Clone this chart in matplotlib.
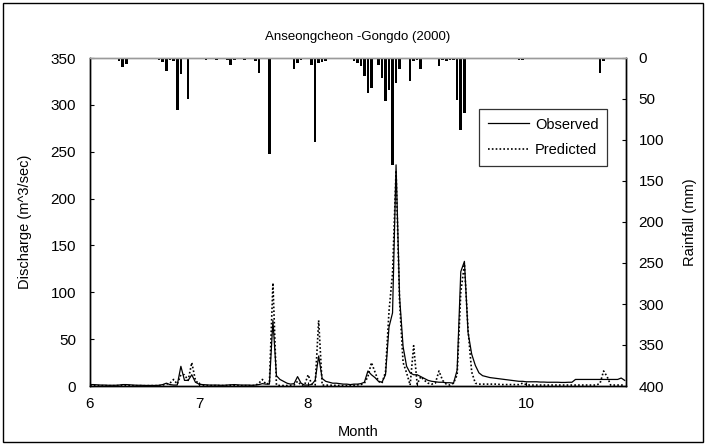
import numpy as np
import pandas as pd
import matplotlib
matplotlib.use("Agg")
import matplotlib.pyplot as plt
from matplotlib.patches import Rectangle

plt.rcParams['font.family'] = ['Liberation Sans', 'DejaVu Sans']

# Daily rainfall (mm), 1 June - 29 October 2000
rain_jun = [0, 0, 0, 0, 0, 0, 0, 0, 4, 11, 7, 0, 0, 0, 0, 0, 0, 0, 0, 3,
            5, 16, 3, 4, 64, 20, 0, 50, 0, 0]
rain_jul = [0, 0, 3, 0, 0, 3, 0, 0, 3, 8, 3, 0, 0, 3, 0, 0, 4, 18, 0, 0,
            117, 0, 0, 0, 0, 0, 0, 13, 6, 3, 0]
rain_aug = [0, 8, 103, 6, 5, 4, 0, 0, 0, 0, 0, 0, 0, 4, 6, 10, 22, 43, 37, 0,
            8, 25, 53, 39, 130, 30, 14, 0, 0, 28, 4]
rain_sep = [3, 14, 0, 0, 0, 0, 10, 3, 4, 3, 3, 51, 88, 67, 0, 0, 0, 0, 0, 0,
            0, 0, 0, 0, 0, 0, 0, 0, 3, 3]
rain_oct = [0, 0, 0, 0, 0, 0, 0, 0, 0, 0, 0, 0, 0, 0, 0, 0, 0, 0, 0, 0,
            0, 18, 4, 0, 0, 0, 0, 0, 0]

# Observed daily discharge (m^3/sec)
obs_jun = [1.5, 1.5, 1.2, 1.0, 1.0, 0.8, 0.8, 0.8, 1.0, 1.5, 1.5, 1.2, 1.0, 0.8, 0.8,
           0.6, 0.6, 0.6, 0.6, 0.8, 1.5, 3.0, 1.5, 1.0, 1.0, 21, 6, 6, 12, 4]
obs_jul = [2, 1.5, 1.2, 1.0, 1.0, 1.0, 0.8, 0.8, 1.0, 1.2, 1.5, 1.2, 1.0, 1.0, 1.0,
           0.8, 1.0, 1.5, 2.5, 2.0, 2.0, 70, 11, 7, 5, 3, 2, 2.5, 10, 3, 1]
obs_aug = [1, 1.5, 6, 32, 8, 5, 4, 3, 3, 2.5, 2, 2, 1.5, 2, 2, 2.5, 4, 16, 12, 9,
           5, 4, 12, 63, 78, 236, 95, 42, 21, 14, 12]
obs_sep = [12, 10, 8, 6, 5, 4.5, 4, 4, 3.5, 3.5, 3, 17, 122, 133, 57, 34, 22, 14, 11, 10,
           9, 8.5, 8, 7.5, 7, 6.5, 6, 5.5, 5, 5]
obs_oct = [4.5, 4.5, 4.5, 4.5, 4.2, 4.2, 4, 4, 4, 4, 3.8, 3.8, 4, 4, 7, 7, 7, 7, 7, 7,
           7, 7, 7, 7, 7, 7, 7, 8.5, 6]

# Predicted daily discharge (m^3/sec)
pred_jun = [0.5, 0.5, 0.4, 0.4, 0.3, 0.3, 0.3, 0.3, 0.5, 0.8, 0.6, 0.4, 0.3, 0.3, 0.3,
            0.3, 0.3, 0.3, 0.3, 0.4, 1.0, 2, 3, 7, 2, 12, 12, 6, 25, 6]
pred_jul = [2, 0.8, 0.5, 0.4, 0.4, 0.5, 0.4, 0.4, 0.5, 0.8, 0.6, 0.4, 0.4, 0.5, 0.4,
            0.4, 0.6, 3, 7, 2, 3, 110, 1, 0.5, 0.5, 0.5, 0.5, 1, 5, 1, 1]
pred_aug = [12, 2, 1, 70, 1, 1, 0.8, 0.8, 0.6, 0.6, 0.6, 0.5, 0.5, 0.8, 1, 1.5, 3, 10, 25, 15,
            5, 3, 15, 80, 120, 230, 90, 25, 14, 1, 43]
pred_sep = [2, 10, 6, 3, 2, 3, 16, 6, 2, 1, 3, 12, 100, 130, 60, 15, 3, 2, 2, 2,
            2, 2, 2, 1.5, 1.5, 1.5, 1.5, 1.5, 1.5, 3]
pred_oct = [1.5, 1, 1, 1, 1, 1, 1, 1, 1, 1, 1, 1, 1, 1, 1, 1, 1, 1, 1, 1,
            1, 3, 16, 10, 1, 1, 1, 1, 1]

month_ticks = [6, 7, 8, 9, 10]
month_labels = ['6', '7', '8', '9', '10']

rain = np.array(rain_jun + rain_jul + rain_aug + rain_sep + rain_oct, dtype=float)
obs = np.array(obs_jun + obs_jul + obs_aug + obs_sep + obs_oct, dtype=float)
pred = np.array(pred_jun + pred_jul + pred_aug + pred_sep + pred_oct, dtype=float)

# Month-fraction position of each day
dates = pd.date_range('2000-06-01', periods=len(obs), freq='D')
xpos = np.asarray(dates.month + (dates.day - 1) / dates.days_in_month, dtype=float)

fig = plt.figure(figsize=(7.06, 4.45), dpi=100)
fig.patches.append(Rectangle((0.004, 0.006), 0.992, 0.988, transform=fig.transFigure,
                             fill=False, edgecolor='black', lw=1.0))

ax = fig.add_axes([90 / 706, 1 - 386 / 445, 536 / 706, 328 / 445])
l_obs, = ax.plot(xpos, obs, color='black', lw=0.9, label='Observed')
l_pred, = ax.plot(xpos, pred, color='black', lw=1.2, ls=(0, (1, 1.3)), label='Predicted')
ax.set_xlim(6, 10.915)
ax.set_ylim(0, 350)
ax.set_yticks(np.arange(0, 351, 50))
ax.set_xticks(month_ticks)
ax.set_xticklabels(month_labels)

ax2 = ax.twinx()
ax2.bar(xpos, rain, width=0.024, color='black', align='center')
ax2.set_ylim(400, 0)
ax2.set_yticks(np.arange(0, 401, 50))

for a in (ax, ax2):
    a.spines['top'].set_color('#9a9a9a')
    a.spines['left'].set_color('black')
    a.spines['right'].set_color('black')
    a.spines['bottom'].set_color('black')
    for s in a.spines.values():
        s.set_linewidth(1.0)

ax.tick_params(axis='y', direction='in', length=3, pad=10, labelsize=11)
ax.tick_params(axis='x', direction='in', length=3, pad=8, labelsize=11, top=False)
ax2.tick_params(axis='y', direction='in', length=3, pad=9, labelsize=11)

leg = ax2.legend([l_obs, l_pred], ['Observed', 'Predicted'], loc='upper right',
                 bbox_to_anchor=(0.965, 0.845), borderaxespad=0, frameon=True,
                 fancybox=False, edgecolor='black', fontsize=10.5, handlelength=2.8,
                 handletextpad=0.4, labelspacing=0.8, borderpad=0.6)
leg.get_frame().set_linewidth(0.9)

fig.text(358 / 706, 1 - 37 / 445, 'Anseongcheon -Gongdo (2000)', ha='center', va='center',
         fontsize=9.5)
fig.text(358 / 706, 1 - 432 / 445, 'Month', ha='center', va='center', fontsize=10.5)
fig.text(25 / 706, 1 - 222 / 445, 'Discharge (m^3/sec)', ha='center', va='center',
         rotation=90, fontsize=10.5)
fig.text(690 / 706, 1 - 222 / 445, 'Rainfall (mm)', ha='center', va='center',
         rotation=90, fontsize=10.5)

fig.savefig('out.png', dpi=100)
